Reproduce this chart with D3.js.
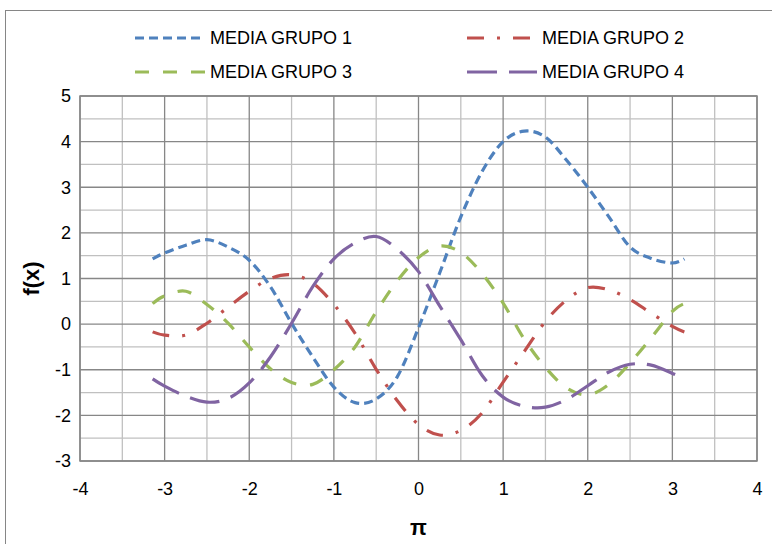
<!DOCTYPE html>
<html><head><meta charset="utf-8">
<script src="https://cdn.jsdelivr.net/npm/d3@7"></script>
<style>
body{margin:0;background:#fff}
svg{display:block}
text{font-family:"Liberation Sans",Arial,sans-serif;fill:#000}
</style>
</head><body>
<svg id="c" width="772" height="544"></svg>
<script>
// ---- data ----
const xValues = [-3.1416, -3, -2.75, -2.5, -2.25, -2, -1.75, -1.5, -1.25, -1, -0.75, -0.5, -0.25, 0,
                 0.25, 0.5, 0.75, 1, 1.25, 1.5, 1.75, 2, 2.25, 2.5, 2.75, 3, 3.1416];
const grupo1 = [1.43, 1.56, 1.73, 1.85, 1.69, 1.40, 0.82, 0.02, -0.72, -1.38, -1.72, -1.64, -1.15, -0.08,
                1.12, 2.35, 3.34, 4.0, 4.23, 4.10, 3.59, 3.0, 2.35, 1.69, 1.44, 1.34, 1.43];
const grupo2 = [-0.17, -0.24, -0.24, 0.02, 0.37, 0.72, 1.0, 1.08, 0.9, 0.43, -0.2, -0.99, -1.68, -2.2,
                -2.43, -2.33, -1.95, -1.27, -0.6, 0.06, 0.53, 0.8, 0.75, 0.54, 0.24, -0.05, -0.17];
const grupo3 = [0.45, 0.62, 0.72, 0.43, 0.02, -0.5, -0.98, -1.28, -1.32, -1.0, -0.5, 0.27, 0.95, 1.46,
                1.71, 1.57, 1.11, 0.46, -0.33, -0.95, -1.4, -1.55, -1.32, -0.85, -0.3, 0.28, 0.45];
const grupo4 = [-1.2, -1.36, -1.58, -1.71, -1.63, -1.29, -0.72, 0.02, 0.82, 1.43, 1.78, 1.92, 1.64, 1.15,
                0.4, -0.34, -1.12, -1.6, -1.8, -1.82, -1.65, -1.35, -1.05, -0.88, -0.9, -1.08, -1.2];
const seriesNames = ["MEDIA GRUPO 1", "MEDIA GRUPO 2", "MEDIA GRUPO 3", "MEDIA GRUPO 4"];
const xTicks = [-4, -3, -2, -1, 0, 1, 2, 3, 4];
const yTicks = [-3, -2, -1, 0, 1, 2, 3, 4, 5];
const xTitle = "π";
const yTitle = "f(x)";

// ---- styling ----
const colors = ["#4F81BD", "#C0504D", "#9BBB59", "#8064A2"];
const dashes = ["9,5", "17,13,3,13", "14,14", "30,12"];
const seriesData = [grupo1, grupo2, grupo3, grupo4];

const svg = d3.select("#c");
const L = 80, R = 757, T = 96, B = 461;
const x = d3.scaleLinear().domain([-4, 4]).range([L, R]);
const y = d3.scaleLinear().domain([-3, 5]).range([B, T]);

// outer chart frame
svg.append("rect").attr("x", 5.5).attr("y", 10.5).attr("width", 900).attr("height", 700)
  .attr("fill", "#fff").attr("stroke", "#868686").attr("stroke-width", 1);

// gridlines
const g = svg.append("g");
const minorX = d3.range(-3.5, 4, 1), minorY = d3.range(-2.5, 5, 1);
g.selectAll(".mx").data(minorX).join("line").attr("class","mx")
  .attr("x1", d => x(d)).attr("x2", d => x(d)).attr("y1", T).attr("y2", B)
  .attr("stroke", "#C0C0C0").attr("stroke-width", 1.3);
g.selectAll(".my").data(minorY).join("line").attr("class","my")
  .attr("x1", L).attr("x2", R).attr("y1", d => y(d)).attr("y2", d => y(d))
  .attr("stroke", "#C0C0C0").attr("stroke-width", 1.3);
g.selectAll(".Mx").data(xTicks).join("line").attr("class","Mx")
  .attr("x1", d => x(d)).attr("x2", d => x(d)).attr("y1", T).attr("y2", B)
  .attr("stroke", "#878787").attr("stroke-width", 1.3);
g.selectAll(".My").data(yTicks).join("line").attr("class","My")
  .attr("x1", L).attr("x2", R).attr("y1", d => y(d)).attr("y2", d => y(d))
  .attr("stroke", "#878787").attr("stroke-width", 1.3);
svg.append("rect").attr("x", L).attr("y", T).attr("width", R - L).attr("height", B - T)
  .attr("fill", "none").attr("stroke", "#878787").attr("stroke-width", 1.5);

// axes (labels only)
const xAxis = svg.append("g").attr("transform", `translate(0,${B})`)
  .call(d3.axisBottom(x).tickValues(xTicks).tickSize(0).tickPadding(21).tickFormat(d3.format("d")));
const yAxis = svg.append("g").attr("transform", `translate(${L},0)`)
  .call(d3.axisLeft(y).tickValues(yTicks).tickSize(0).tickPadding(9).tickFormat(d3.format("d")));
[xAxis, yAxis].forEach(a => {
  a.select(".domain").remove();
  a.selectAll("text").attr("font-size", 18).attr("font-family", '"Liberation Sans",Arial,sans-serif').attr("fill", "#000");
});
xAxis.selectAll("text").text(d => String(d));
yAxis.selectAll("text").text(d => String(d));

// axis titles
svg.append("text").attr("x", x(0)).attr("y", 535).attr("text-anchor", "middle")
  .attr("font-size", 22).attr("font-weight", "bold").text(xTitle);
svg.append("text").attr("transform", `translate(39,${(T + B) / 2}) rotate(-90)`)
  .attr("text-anchor", "middle").attr("font-size", 22).attr("font-weight", "bold").text(yTitle);

// series
const line = d3.line().x((d, i) => x(xValues[i])).y(d => y(d)).curve(d3.curveCardinal.tension(0));
seriesData.forEach((s, k) => {
  svg.append("path").datum(s).attr("d", line)
    .attr("fill", "none").attr("stroke", colors[k]).attr("stroke-width", 3.2)
    .attr("stroke-dasharray", dashes[k]).attr("stroke-linecap", "butt");
});

// legend
const legendPos = [[135, 38], [467, 38], [135, 72], [467, 72]];
seriesNames.forEach((name, k) => {
  const [lx, ly] = legendPos[k];
  svg.append("line").attr("x1", lx).attr("x2", lx + 70).attr("y1", ly).attr("y2", ly)
    .attr("stroke", colors[k]).attr("stroke-width", 3.2).attr("stroke-dasharray", dashes[k]);
  svg.append("text").attr("x", lx + 75).attr("y", ly).attr("dy", "0.35em")
    .attr("font-size", 18).text(name);
});
</script>
</body></html>
